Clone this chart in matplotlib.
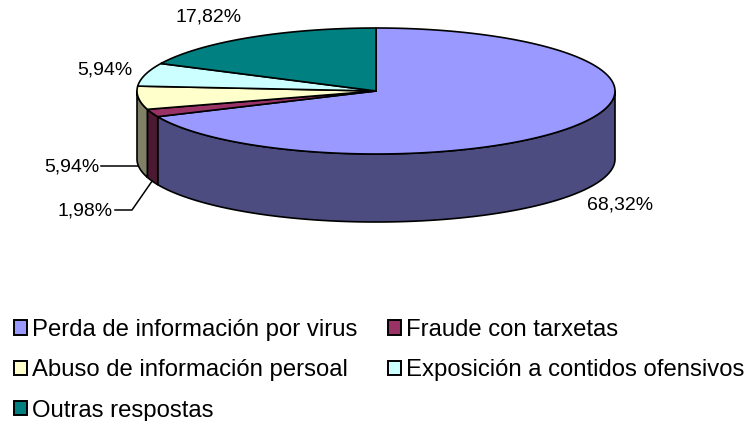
import numpy as np
import matplotlib.pyplot as plt
from matplotlib.patches import Polygon, Patch

plt.rcParams['font.family'] = ['Liberation Sans', 'DejaVu Sans']

# data
categories = ['Perda de información por virus', 'Fraude con tarxetas',
              'Abuso de información persoal', 'Exposición a contidos ofensivos',
              'Outras respostas']
values = [68.32, 1.98, 5.94, 5.94, 17.82]
pct_labels = ['68,32%', '1,98%', '5,94%', '5,94%', '17,82%']

top_colors = ['#9999FF', '#993366', '#FFFFCC', '#CCFFFF', '#008080']
side_colors = ['#4C4C80', '#4C1933', '#808066', '#668080', '#004040']

# geometry of the 3d pie (pixel units, y pointing down)
cx, cy = 376, 91
a, b = 239, 63
depth = 68


def rim(t1, t2, dy=0, n=200):
    t = np.radians(np.linspace(t1, t2, n))
    return np.column_stack([cx + a * np.sin(t), cy - b * np.cos(t) + dy])


fig = plt.figure(figsize=(7.54, 4.21), dpi=100)
ax = fig.add_axes([0, 0, 1, 1])
ax.set_xlim(0, 754)
ax.set_ylim(421, 0)
ax.axis('off')

frac = np.array(values) / np.sum(values)
ends = np.cumsum(frac) * 360
starts = ends - frac * 360

# visible side walls (front half: 90..270 deg clockwise from top)
for t1, t2, c in zip(starts, ends, side_colors):
    lo, hi = max(t1, 90), min(t2, 270)
    if lo < hi:
        pts = np.vstack([rim(lo, hi), rim(hi, lo, dy=depth)])
        ax.add_patch(Polygon(pts, closed=True, facecolor=c, edgecolor='black',
                             lw=1.2, joinstyle='round', zorder=1))

# top faces
for t1, t2, c in zip(starts, ends, top_colors):
    pts = np.vstack([[cx, cy], rim(t1, t2)])
    ax.add_patch(Polygon(pts, closed=True, facecolor=c, edgecolor='black',
                         lw=1.2, joinstyle='round', zorder=2))

# percentage labels
fs = 14
mid = (starts + ends) / 2
ax.text(587, 205, pct_labels[0], fontsize=fs, ha='left', va='center')
ax.text(209, 17, pct_labels[4], fontsize=fs, ha='center', va='center')
ax.text(132, 70, pct_labels[3], fontsize=fs, ha='right', va='center')

# leader lines to the thin slices
p_abuso = rim(mid[2], mid[2], dy=depth, n=1)[0]
ax.text(99, p_abuso[1] + 1, pct_labels[2], fontsize=fs, ha='right', va='center')
ax.plot([101, p_abuso[0]], [p_abuso[1], p_abuso[1]], color='black', lw=1.1)

p_fraude = rim(mid[1], mid[1], dy=depth, n=1)[0]
ax.text(113, 211, pct_labels[1], fontsize=fs, ha='right', va='center')
ax.plot([115, 132, p_fraude[0]], [210, 210, p_fraude[1]], color='black', lw=1.1)

# legend
order = [0, 2, 4, 1, 3]
handles = [Patch(facecolor=top_colors[i], edgecolor='black', lw=1.4,
                 label=categories[i]) for i in order]
fig.legend(handles=handles, loc='upper left', bbox_to_anchor=(0.003, 0.271),
           ncol=2, frameon=False, fontsize=17.2, handlelength=0.54,
           handleheight=0.54, handletextpad=0.2, labelspacing=0.77,
           columnspacing=1.3, borderpad=0)

fig.savefig('out.png', dpi=100)
